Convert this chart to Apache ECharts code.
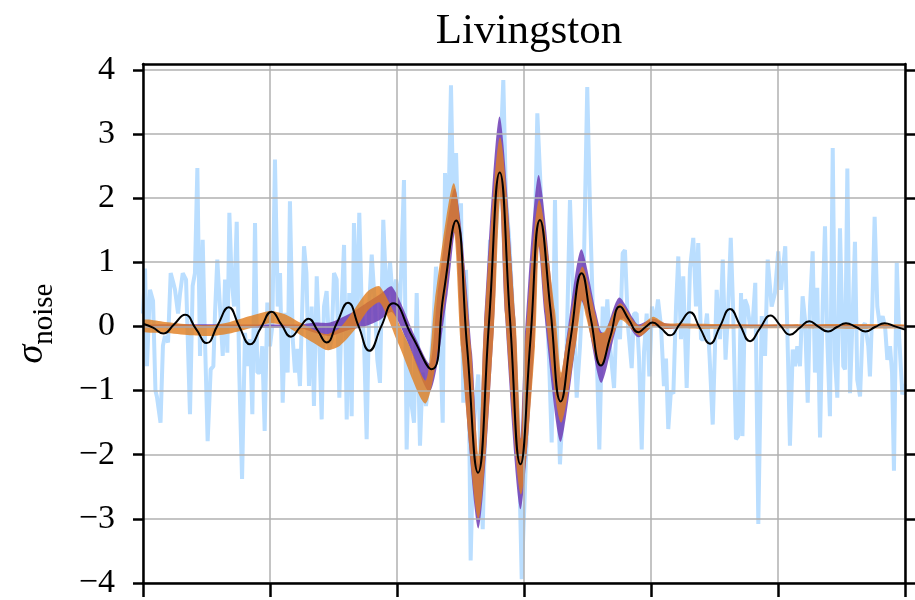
<!DOCTYPE html>
<html>
<head>
<meta charset="utf-8">
<script src="https://cdn.jsdelivr.net/npm/echarts@6.0.0/dist/echarts.min.js"></script>
<style>
  body { margin: 0; background: #fff; }
  #main { width: 915px; height: 600px; }
</style>
</head>
<body>
<div id="main"></div>
<script type="text/javascript">
// whitened strain (light blue)
var noiseT = [
  0, 0.016, 0.031, 0.055, 0.079, 0.098, 0.110, 0.138, 0.157, 0.173,
  0.197, 0.218, 0.236, 0.252, 0.276, 0.291, 0.313, 0.339, 0.354, 0.370,
  0.391, 0.409, 0.428, 0.449, 0.470, 0.488, 0.509, 0.533, 0.554, 0.567,
  0.585, 0.606, 0.628, 0.646, 0.664, 0.680, 0.698, 0.717, 0.738, 0.758,
  0.780, 0.803, 0.821, 0.843, 0.861, 0.882, 0.900, 0.921, 0.939, 0.958,
  0.979, 1.000, 1.018, 1.039, 1.061, 1.079, 1.100, 1.120, 1.139, 1.157,
  1.179, 1.197, 1.217, 1.236, 1.268, 1.287, 1.307, 1.328, 1.346, 1.368,
  1.386, 1.407, 1.425, 1.446, 1.467, 1.486, 1.504, 1.525, 1.546, 1.565,
  1.583, 1.604, 1.624, 1.643, 1.661, 1.683, 1.703, 1.722, 1.740, 1.761,
  1.781, 1.801, 1.827, 1.845, 1.866, 1.892, 1.919, 1.945, 1.971, 1.992,
  2.024, 2.055, 2.076, 2.097, 2.116, 2.134, 2.155, 2.181, 2.202, 2.228,
  2.260, 2.286, 2.307, 2.331, 2.360, 2.378, 2.402, 2.425, 2.445, 2.465,
  2.484, 2.504, 2.522, 2.543, 2.563, 2.580, 2.606, 2.640, 2.657, 2.675,
  2.701, 2.732, 2.756, 2.780, 2.811, 2.837, 2.858, 2.882, 2.906, 2.929,
  2.955, 2.982, 3.008, 3.042, 3.063, 3.084, 3.105, 3.126, 3.150, 3.173,
  3.197, 3.218, 3.244, 3.264, 3.283, 3.307, 3.335, 3.362, 3.386, 3.415,
  3.441, 3.472, 3.498, 3.520, 3.543, 3.567, 3.593, 3.620, 3.638, 3.656,
  3.677, 3.709, 3.732, 3.756, 3.777, 3.795, 3.819, 3.848, 3.866, 3.887,
  3.906, 3.927, 3.945, 3.966, 3.987, 4.008, 4.031, 4.055, 4.079, 4.102,
  4.118, 4.136, 4.157, 4.176, 4.197, 4.215, 4.236, 4.254, 4.281, 4.307,
  4.333, 4.354, 4.372, 4.394, 4.417, 4.441, 4.461, 4.486, 4.517, 4.543,
  4.565, 4.587, 4.606, 4.628, 4.646, 4.669, 4.687, 4.709, 4.720, 4.740,
  4.760, 4.780, 4.799, 4.821, 4.845, 4.872, 4.898, 4.919, 4.950, 4.976,
  5.002, 5.024, 5.039, 5.057, 5.079, 5.094, 5.116, 5.134, 5.152, 5.173,
  5.194, 5.213, 5.234, 5.252, 5.273, 5.291, 5.309, 5.331, 5.352, 5.370,
  5.388, 5.409, 5.431, 5.449, 5.467, 5.488, 5.514, 5.528, 5.546, 5.567,
  5.585, 5.606, 5.624, 5.646, 5.667, 5.685, 5.711, 5.724, 5.743, 5.761,
  5.782, 5.803, 5.824, 5.843, 5.861, 5.882, 5.898, 5.913, 5.935, 5.955,
  5.979, 6.000
];
var noiseV = [
  0.2, 0.9, -0.62, 0.57, 0.4, -1.0, -1.1, -1.5, -0.3, -0.15,
  -0.25, 0.83, 0.7, 0.57, 0.2, 0.5, 0.83, 0.73, -0.3, -1.37,
  0.63, 0.83, 2.47, -0.46, 1.35, -0.2, -1.79, -0.67, -0.62, 0.2,
  1.04, 0.31, -0.46, 0.73, -0.41, 1.77, 0.73, 0.31, 1.63, -0.72,
  -2.38, -0.1, -0.62, -0.2, -1.37, 1.61, -0.72, -0.72, -0.31, -1.63,
  0.37, -0.31, 0.0, 2.6, 0.31, 0.83, -1.19, 0.21, -0.72, 1.95,
  -0.2, -0.72, -0.35, -0.93, 1.25, 0.83, -0.93, 0.31, -1.24, 0.78,
  -0.1, -1.45, 0.31, 0.55, -0.36, -0.2, 0.83, 0.73, -1.11, 0.36,
  1.27, -1.45, 0.52, -1.4, 1.61, 0.0, 1.77, 0.31, -0.2, -1.76,
  0.31, 1.12, 0.31, -0.52, -0.88, 1.66, 0.31, 1.01, 0.31, 0.73,
  0.31, 2.28, -1.92, -0.2, -1.24, -1.5, 0.52, -1.86, -0.72, -1.24,
  -0.72, 0.0, 0.93, 0.31, -1.5, 2.39, 1.5, 3.76, 1.7, 2.7,
  1.3, 1.92, -1.19, 0.88, -0.5, -3.65, -1.5, -0.75, -2.0, -3.16,
  -1.0, 1.35, 1.1, 1.5, 2.5, 3.84, 2.0, 1.4, 0.5, -0.5,
  -1.5, -3.94, -2.5, -0.57, 0.9, 1.2, 3.32, 2.38, 1.2, 0.5,
  -0.5, -1.81, 1.97, -0.5, -2.15, -1.2, -0.4, 1.97, 0.5, -1.11,
  -0.3, 1.0, 3.73, 1.8, 0.2, 0.0, -1.92, 0.31, -0.3, 0.42,
  -0.3, -0.96, 0.31, -0.2, 1.14, 1.19, 0.0, -0.65, 0.2, 0.2,
  -0.5, -1.92, -0.4, 0.2, -0.78, 0.31, 0.0, 0.42, 0.0, -0.93,
  -0.5, -1.6, -1.0, -1.05, 0.3, 1.09, -0.2, 0.78, -0.96, 0.9,
  1.38, 0.31, 1.3, -0.2, -0.2, 0.2, -0.46, -1.53, 0.57, -0.2,
  1.04, -0.52, 0.2, 1.38, 0.31, -1.76, -1.71, 0.52, -1.71, 0.42,
  0.31, 0.0, 0.0, 0.68, -3.08, 0.16, -0.46, 1.04, 0.31, 0.52,
  1.17, 0.57, 0.6, 1.25, -0.52, -1.86, -0.36, -0.62, -0.31, -0.62,
  0.47, 0.1, -1.19, 0.31, 1.17, -0.72, 0.6, -1.73, 0.31, 1.56,
  -0.2, -1.4, 2.78, -0.52, -1.11, 1.53, -0.62, -0.67, 2.46, -1.04,
  0.0, 1.32, -0.83, -1.09, 0.0, 0.05, -0.31, -0.78, 0.31, 1.71,
  0.31, 0.0, 0.16, 0.0, -0.52, -0.31, -0.72, -2.25, 0.99, -0.2,
  -1.06, -0.9
];

// purple band: upper edge and lower edge
var purpleUpT = [0, 1.236, 1.354, 1.472, 1.630, 1.748, 1.866, 1.961, 2.150, 2.260,
  2.319, 2.457, 2.591, 2.642, 2.685, 2.807, 2.929, 2.972, 3.004, 3.114,
  3.240, 3.287, 3.331, 3.449, 3.567, 3.606, 3.638, 3.748, 3.862, 3.898,
  4.016, 4.110, 4.228, 6.0];
var purpleUpV = [0.03, 0.03, 0.06, 0.06, 0.2, 0.35, 0.5, 0.62, -0.19, -0.58,
  0.5, 2.15, -0.42, -2.15, 0.02, 3.27, 0.2, -1.75, -0.25, 2.36,
  0.18, -0.8, -0.25, 1.2, 0.22, -0.08, -0.1, 0.45, 0.12, 0.03,
  0.12, 0.05, 0.03, 0.02];
var purpleLoT = [0, 1.236, 1.354, 1.472, 1.630, 1.748, 1.866, 1.961, 2.071, 2.260,
  2.398, 2.457, 2.512, 2.642, 2.764, 2.807, 2.850, 2.972, 3.083, 3.114,
  3.161, 3.287, 3.409, 3.449, 3.488, 3.606, 3.717, 3.748, 3.787, 3.898,
  4.016, 4.110, 4.228, 6.0];
var purpleLoV = [-0.02, -0.03, -0.1, -0.15, -0.05, 0.0, 0.1, 0.22, -0.19, -1.02,
  0.5, 1.45, -0.42, -3.15, 0.02, 2.15, 0.2, -2.85, -0.25, 1.25,
  0.18, -1.8, -0.25, 0.4, 0.22, -0.88, -0.1, 0.1, 0.12, -0.17,
  0.0, -0.04, -0.02, -0.02];

// orange band: upper edge and lower edge
var orangeUpT = [0, 0.173, 0.370, 0.528, 0.685, 0.843, 1.000, 1.118, 1.236, 1.354,
  1.449, 1.551, 1.669, 1.772, 1.866, 2.087, 2.228, 2.299, 2.449, 2.583,
  2.642, 2.685, 2.811, 2.933, 2.976, 3.008, 3.118, 3.244, 3.291, 3.335,
  3.457, 3.567, 3.598, 3.638, 3.756, 3.866, 3.913, 4.016, 4.110, 4.228,
  4.386, 4.780, 6.0];
var orangeUpV = [0.1, 0.07, 0.03, 0.02, 0.07, 0.16, 0.24, 0.19, 0.06, -0.06,
  -0.12, -0.02, 0.28, 0.55, 0.62, -0.26, -0.84, 0.42, 2.23, -0.33,
  -2.0, -0.03, 2.95, 0.12, -1.76, -0.3, 1.97, 0.25, -0.72, -0.22,
  0.93, 0.15, -0.1, -0.07, 0.36, 0.08, 0.01, 0.15, 0.05, 0.05,
  0.04, 0.03, 0.03];
var orangeLoT = [0, 0.173, 0.370, 0.528, 0.685, 0.843, 1.000, 1.118, 1.236, 1.354,
  1.449, 1.551, 1.669, 1.772, 1.866, 2.008, 2.228, 2.378, 2.449, 2.504,
  2.642, 2.764, 2.811, 2.854, 2.976, 3.087, 3.118, 3.165, 3.291, 3.413,
  3.457, 3.488, 3.598, 3.717, 3.756, 3.787, 3.913, 4.016, 4.110, 4.228,
  4.386, 4.780, 6.0];
var orangeLoV = [-0.08, -0.1, -0.14, -0.15, -0.11, -0.03, 0.05, 0.01, -0.13, -0.27,
  -0.37, -0.3, -0.05, 0.25, 0.37, -0.26, -1.2, 0.42, 1.47, -0.33,
  -3.0, -0.03, 1.97, 0.12, -2.62, -0.3, 1.25, 0.25, -1.5, -0.22,
  0.41, 0.15, -0.62, -0.07, 0.1, 0.08, -0.15, 0.0, -0.04, -0.03,
  -0.04, -0.03, -0.03];

// maximum-likelihood waveform (black)
var waveT = [0, 0.079, 0.160, 0.244, 0.331, 0.417, 0.502, 0.588, 0.675, 0.758,
  0.843, 0.929, 1.013, 1.089, 1.165, 1.234, 1.302, 1.374, 1.445, 1.528,
  1.614, 1.698, 1.782, 1.876, 1.969, 2.118, 2.273, 2.366, 2.465, 2.551,
  2.638, 2.724, 2.809, 2.890, 2.972, 3.051, 3.126, 3.209, 3.289, 3.370,
  3.454, 3.528, 3.606, 3.681, 3.756, 3.827, 3.900, 3.957, 4.012, 4.079,
  4.150, 4.228, 4.307, 4.386, 4.465, 4.543, 4.622, 4.701, 4.780, 4.858,
  4.941, 5.016, 5.094, 5.173, 5.246, 5.315, 5.394, 5.465, 5.535, 5.614,
  5.689, 5.764, 5.839, 5.921, 6.0];
var waveV = [0.04, -0.02, -0.11, 0.03, 0.18, -0.04, -0.26, 0.02, 0.30, 0.0,
  -0.28, -0.02, 0.23, 0.03, -0.16, -0.02, 0.12, -0.06, -0.25, 0.06,
  0.37, 0.0, -0.38, 0.0, 0.36, -0.15, -0.67, 0.5, 1.65, -0.3,
  -2.28, 0.05, 2.4, 0.1, -2.15, -0.2, 1.66, 0.25, -1.17, -0.15,
  0.83, 0.1, -0.61, -0.15, 0.31, 0.1, -0.09, -0.01, 0.06, -0.03,
  -0.14, 0.04, 0.22, -0.03, -0.27, 0.0, 0.27, 0.02, -0.23, -0.03,
  0.17, 0.02, -0.13, -0.02, 0.08, 0.0, -0.08, -0.01, 0.05, -0.01,
  -0.08, -0.01, 0.05, 0.0, -0.05];

var yTicks = [-4, -3, -2, -1, 0, 1, 2, 3, 4];

var serif = '"Liberation Serif", "DejaVu Serif", serif';
var frame = { show: true, onZero: false, lineStyle: { color: '#000', width: 2.5 } };

function pairs(xs, ys) {
  return xs.map(function (x, i) { return [x, ys[i]]; });
}

// 置信带：上沿 + 反向下沿组成一个多边形，坐标由 api.coord 换算
function band(name, upT, upV, loT, loV, color, z) {
  return {
    name: name, type: 'custom', silent: true, clip: true, z: z,
    data: pairs(upT, upV),
    encode: { x: 0, y: 1 },
    renderItem: function (params, api) {
      if (params.dataIndex !== 0) return null;
      var pts = [];
      for (var i = 0; i < upT.length; i++) pts.push(api.coord([upT[i], upV[i]]));
      for (var j = loT.length - 1; j >= 0; j--) pts.push(api.coord([loT[j], loV[j]]));
      return {
        type: 'polygon',
        shape: { points: pts, smooth: 0.25 },
        style: { fill: color }
      };
    }
  };
}

var myChart = echarts.init(document.getElementById('main'));

// 网格线压在置信带上面（与原图一致），黑线在最上
var option = {
  animation: false,
  title: {
    text: 'Livingston',
    left: 524,
    top: 5,
    textAlign: 'center',
    textStyle: { fontFamily: serif, fontWeight: 'normal', fontSize: 43, color: '#000' }
  },
  grid: { left: 143, right: 10, top: 64, bottom: 14, show: false },
  xAxis: [
    {
      type: 'value', min: 0, max: 6, interval: 1, position: 'bottom', z: 4,
      axisLine: frame,
      axisTick: { show: true, length: 14, lineStyle: { color: '#000', width: 2.5 } },
      axisLabel: { show: false },
      splitLine: { show: true, lineStyle: { color: '#b0b0b0', width: 1.5 } }
    },
    {
      type: 'value', min: 0, max: 6, interval: 1, position: 'top', z: 4,
      axisLine: frame,
      axisTick: { show: false },
      axisLabel: { show: false },
      splitLine: { show: false }
    }
  ],
  yAxis: [
    {
      type: 'value', min: -4, max: 4.09, interval: 1, z: 4,
      name: '{s|σ}{n|noise}',
      nameLocation: 'middle',
      nameGap: 84,
      nameRotate: 90,
      nameTextStyle: {
        rich: {
          s: { fontFamily: serif, fontStyle: 'italic', fontSize: 38, color: '#000', lineHeight: 46, verticalAlign: 'top' },
          n: { fontFamily: serif, fontSize: 29, color: '#000', lineHeight: 46, verticalAlign: 'bottom' }
        }
      },
      axisLine: frame,
      axisTick: { show: true, length: 10, customValues: yTicks, lineStyle: { color: '#000', width: 2.5 } },
      axisLabel: {
        customValues: yTicks,
        margin: 28,
        fontFamily: serif, fontSize: 34, color: '#000',
        formatter: function (v) {
          if (Math.abs(v - Math.round(v)) > 1e-6) return '';
          return v < 0 ? '\u2212' + (-v) : String(v);
        }
      },
      splitLine: { show: true, lineStyle: { color: '#b0b0b0', width: 1.5 } }
    },
    {
      type: 'value', min: -4, max: 4.09, interval: 1, position: 'right', z: 4,
      axisLine: frame,
      axisTick: { show: true, length: 10, customValues: yTicks, lineStyle: { color: '#000', width: 2.5 } },
      axisLabel: { show: false },
      splitLine: { show: false }
    }
  ],
  series: [
    {
      name: 'data', type: 'line', data: pairs(noiseT, noiseV), z: 1,
      symbol: 'none', silent: true,
      lineStyle: { color: '#badeff', width: 4 }
    },
    band('purple', purpleUpT, purpleUpV, purpleLoT, purpleLoV, 'rgba(110,60,180,0.85)', 2),
    band('orange', orangeUpT, orangeUpV, orangeLoT, orangeLoV, 'rgba(225,125,30,0.8)', 3),
    {
      name: 'wave', type: 'line', data: pairs(waveT, waveV), z: 5,
      symbol: 'none', smooth: 0.5, silent: true,
      lineStyle: { color: '#000', width: 2 }
    }
  ]
};

myChart.setOption(option);
</script>
</body>
</html>
